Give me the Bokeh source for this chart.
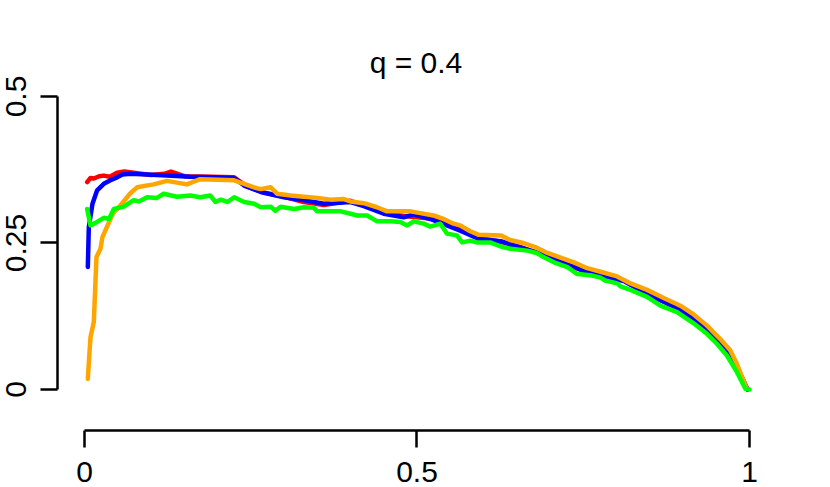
from bokeh.plotting import figure
from bokeh.models import Range1d, FixedTicker
from bokeh.embed import file_html
from bokeh.resources import INLINE

# ---- data ----
red_x = [0.004, 0.009, 0.014, 0.022, 0.029, 0.038, 0.049, 0.06, 0.079, 0.10, 0.12, 0.13, 0.15,
         0.19, 0.225, 0.245, 0.27, 0.30, 0.33, 0.36, 0.40, 0.42, 0.45, 0.48, 0.52, 0.565, 0.593,
         0.626, 0.656, 0.686, 0.716, 0.746, 0.776, 0.811, 0.846, 0.896, 0.936, 0.971, 0.991, 0.997]
red_y = [0.354, 0.361, 0.360, 0.364, 0.365, 0.363, 0.370, 0.372, 0.369, 0.366, 0.368, 0.372, 0.364,
         0.363, 0.362, 0.346, 0.336, 0.329, 0.320, 0.315, 0.322, 0.314, 0.302, 0.296, 0.292, 0.273, 0.259,
         0.252, 0.243, 0.231, 0.218, 0.204, 0.196, 0.186, 0.164, 0.136, 0.104, 0.062, 0.015, 0.0]

blue_x = [0.005, 0.0065, 0.012, 0.019, 0.029, 0.039, 0.049, 0.057, 0.069, 0.094, 0.124, 0.159, 0.194,
          0.225, 0.240, 0.265, 0.30, 0.33, 0.36, 0.40, 0.42, 0.45, 0.48, 0.495, 0.52, 0.545, 0.565,
          0.593, 0.626, 0.656, 0.686, 0.716, 0.746, 0.776, 0.811, 0.846, 0.871, 0.896, 0.916, 0.936,
          0.956, 0.971, 0.981, 0.991, 0.997]
blue_y = [0.209, 0.277, 0.317, 0.340, 0.351, 0.357, 0.362, 0.367, 0.368, 0.367, 0.365, 0.363, 0.362,
          0.361, 0.348, 0.337, 0.328, 0.323, 0.317, 0.320, 0.313, 0.300, 0.294, 0.299, 0.291, 0.280, 0.271,
          0.257, 0.253, 0.242, 0.232, 0.217, 0.205, 0.195, 0.185, 0.163, 0.150, 0.135, 0.122, 0.104,
          0.082, 0.062, 0.040, 0.014, 0.0]

orange_x = [0.005, 0.009, 0.014, 0.018, 0.024, 0.027, 0.039, 0.044, 0.054, 0.069, 0.079, 0.104, 0.124,
            0.154, 0.174, 0.20, 0.225, 0.24, 0.255, 0.265, 0.28, 0.29, 0.31, 0.33, 0.35, 0.37, 0.39,
            0.40, 0.42, 0.44, 0.455, 0.47, 0.49, 0.505, 0.525, 0.54, 0.555, 0.565, 0.58, 0.593, 0.626,
            0.64, 0.66, 0.68, 0.696, 0.716, 0.736, 0.756, 0.776, 0.801, 0.821, 0.846, 0.871, 0.896,
            0.916, 0.936, 0.956, 0.971, 0.981, 0.991, 0.996]
orange_y = [0.018, 0.089, 0.115, 0.226, 0.240, 0.260, 0.291, 0.302, 0.314, 0.335, 0.345, 0.350, 0.356,
            0.350, 0.359, 0.358, 0.357, 0.351, 0.345, 0.342, 0.345, 0.334, 0.331, 0.329, 0.327, 0.324, 0.325,
            0.321, 0.318, 0.311, 0.304, 0.304, 0.304, 0.301, 0.297, 0.291, 0.283, 0.280, 0.270, 0.264, 0.263,
            0.255, 0.250, 0.242, 0.233, 0.225, 0.217, 0.207, 0.201, 0.193, 0.181, 0.170, 0.156, 0.143,
            0.128, 0.109, 0.086, 0.067, 0.044, 0.015, 0.001]

green_x = [0.004, 0.009, 0.019, 0.029, 0.037, 0.044, 0.059, 0.074, 0.082, 0.094, 0.109, 0.119, 0.139,
           0.159, 0.174, 0.189, 0.197, 0.205, 0.215, 0.225, 0.24, 0.255, 0.265, 0.28, 0.287, 0.295,
           0.315, 0.33, 0.345, 0.35, 0.37, 0.385, 0.40, 0.41, 0.425, 0.44, 0.46, 0.475, 0.485, 0.495,
           0.51, 0.52, 0.535, 0.545, 0.56, 0.568, 0.58, 0.59, 0.61, 0.626, 0.64, 0.666, 0.68, 0.69,
           0.706, 0.726, 0.741, 0.761, 0.776, 0.783, 0.801, 0.806, 0.821, 0.846, 0.866, 0.891, 0.916,
           0.936, 0.951, 0.966, 0.981, 0.994, 1.0]
green_y = [0.308, 0.280, 0.286, 0.293, 0.291, 0.308, 0.312, 0.323, 0.321, 0.328, 0.327, 0.334, 0.329,
           0.331, 0.328, 0.331, 0.320, 0.324, 0.320, 0.328, 0.320, 0.317, 0.311, 0.312, 0.305, 0.312,
           0.308, 0.311, 0.310, 0.304, 0.304, 0.304, 0.300, 0.297, 0.297, 0.287, 0.287, 0.286, 0.280, 0.287,
           0.283, 0.278, 0.283, 0.266, 0.263, 0.251, 0.254, 0.251, 0.251, 0.244, 0.240, 0.237, 0.233, 0.226,
           0.217, 0.209, 0.197, 0.195, 0.191, 0.186, 0.181, 0.176, 0.170, 0.158, 0.143, 0.132, 0.113,
           0.095, 0.078, 0.058, 0.030, 0.001, 0.0]

x_ticks = [0, 0.5, 1]
x_tick_labels = ["0", "0.5", "1"]
y_ticks = [0, 0.25, 0.5]
y_tick_labels = ["0", "0.25", "0.5"]
title_text = "q = 0.4"

FONT = "Liberation Sans"

p = figure(width=830, height=487,
           x_range=Range1d(-0.0406, 1.0376), y_range=Range1d(-0.070, 0.5205),
           output_backend="svg", toolbar_location=None,
           min_border_left=57, min_border_right=56, min_border_top=84, min_border_bottom=57)

p.title.text = title_text
p.title.align = "center"
p.title.text_font = FONT
p.title.text_font_size = "30px"
p.title.text_font_style = "normal"
p.title.text_color = "black"
p.title.standoff = 11

p.outline_line_color = None
p.xgrid.visible = False
p.ygrid.visible = False
p.background_fill_color = "white"
p.border_fill_color = "white"

series = [(red_x, red_y, "#FF0000"), (blue_x, blue_y, "#0000FF"),
          (orange_x, orange_y, "#FFA500"), (green_x, green_y, "#00FF00")]
for xs, ys, c in series:
    p.line(xs, ys, line_color=c, line_width=4.5, line_cap="round", line_join="round")

for ax, ticks, labels in ((p.xaxis[0], x_ticks, x_tick_labels), (p.yaxis[0], y_ticks, y_tick_labels)):
    ax.ticker = FixedTicker(ticks=ticks, minor_ticks=[])
    ax.major_label_overrides = {t: l for t, l in zip(ticks, labels)}
    ax.bounds = (ticks[0], ticks[-1])
    ax.axis_line_color = "black"
    ax.axis_line_width = 2.5
    ax.major_tick_line_color = "black"
    ax.major_tick_line_width = 2.5
    ax.major_tick_in = 0
    ax.major_tick_out = 17
    ax.minor_tick_line_color = None
    ax.major_label_text_font = FONT
    ax.major_label_text_font_size = "30px"
    ax.major_label_text_color = "black"
    ax.major_label_text_line_height = 0.75
    ax.major_label_standoff = 14

p.yaxis[0].major_label_orientation = "vertical"

open("out.html", "w").write(file_html(p, INLINE))
